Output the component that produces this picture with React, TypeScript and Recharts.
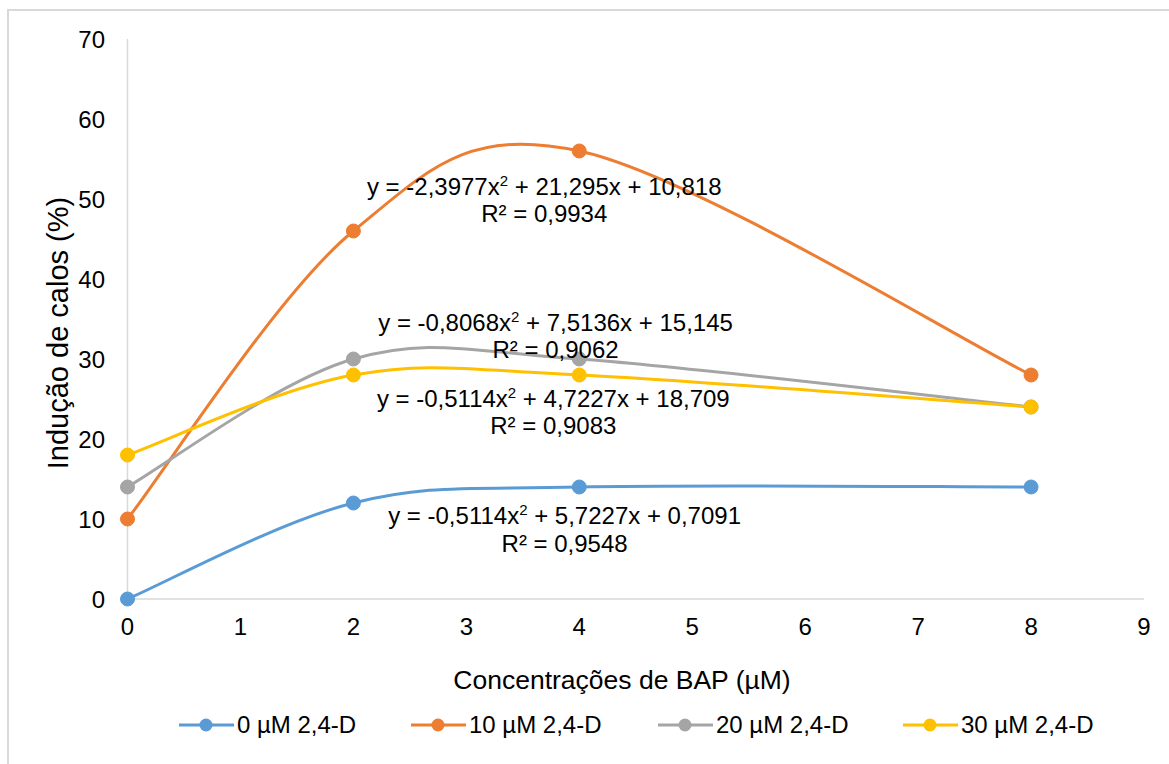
import React from 'react';
import { LineChart, Line, XAxis, YAxis, ReferenceDot } from 'recharts';

// BAP concentrations (µM) on the x axis
const bap = [0, 2, 4, 8];

// callus induction (%) per 2,4-D level
const d0 = [0, 12, 14, 14];
const d10 = [10, 46, 56, 28];
const d20 = [14, 30, 30, 24];
const d30 = [18, 28, 28, 24];

const seriesNames = ['0 µM 2,4-D', '10 µM 2,4-D', '20 µM 2,4-D', '30 µM 2,4-D'];
const seriesKeys = ['d0', 'd10', 'd20', 'd30'];
const seriesColors = ['#5B9BD5', '#ED7D31', '#A5A5A5', '#FFC000'];

const xTicks = [0, 1, 2, 3, 4, 5, 6, 7, 8, 9];
const yTicks = [0, 10, 20, 30, 40, 50, 60, 70];

// trendline labels (anchor in data units)
const eqX = [3.87, 3.69, 3.79, 3.77];
const eqY = [8.7, 49.9, 32.9, 23.4];
const eqA = ['-0,5114', '-2,3977', '-0,8068', '-0,5114'];
const eqB = ['5,7227', '21,295', '7,5136', '4,7227'];
const eqC = ['0,7091', '10,818', '15,145', '18,709'];
const eqR2 = ['0,9548', '0,9934', '0,9062', '0,9083'];

const table = bap.map((x, i) => ({ x, d0: d0[i], d10: d10[i], d20: d20[i], d30: d30[i] }));

const FONT = '"Liberation Sans", Arial, sans-serif';

// Excel style smoothed line (catmull-rom like bezier)
const excelCurve = (context: any) => {
  let pts: number[][] = [];
  return {
    areaStart() {},
    areaEnd() {},
    lineStart() {
      pts = [];
    },
    lineEnd() {
      if (!pts.length) return;
      context.moveTo(pts[0][0], pts[0][1]);
      for (let i = 0; i < pts.length - 1; i++) {
        const p0 = pts[i - 1] || pts[i];
        const p1 = pts[i];
        const p2 = pts[i + 1];
        const p3 = pts[i + 2] || pts[i + 1];
        context.bezierCurveTo(
          p1[0] + (p2[0] - p0[0]) / 6,
          p1[1] + (p2[1] - p0[1]) / 6,
          p2[0] - (p3[0] - p1[0]) / 6,
          p2[1] - (p3[1] - p1[1]) / 6,
          p2[0],
          p2[1]
        );
      }
    },
    point(x: number, y: number) {
      pts.push([+x, +y]);
    },
  };
};

const Equation = ({ cx, cy, i }: any) => (
  <g fontFamily={FONT} fontSize={24} fill="#000">
    <text x={cx} y={cy - 13.5} textAnchor="middle" dy="0.35em">
      {`y = ${eqA[i]}x`}
      <tspan fontSize={15} dy={-9}>2</tspan>
      <tspan dy={9}>{` + ${eqB[i]}x + ${eqC[i]}`}</tspan>
    </text>
    <text x={cx} y={cy + 14} textAnchor="middle" dy="0.35em">
      {`R² = ${eqR2[i]}`}
    </text>
  </g>
);

const legendX = [179, 411, 658, 903];

export default function App() {
  return (
    <div style={{ position: 'fixed', left: 0, top: 0, width: 1169, height: 764, overflow: 'hidden', background: '#fff', fontFamily: FONT }}>
      <div style={{ position: 'absolute', left: 7, top: 9, width: 1300, height: 900, border: '2px solid #D9D9D9' }} />
      <div style={{ position: 'absolute', left: 0, top: 0 }}>
        <LineChart width={1169} height={764} data={table} margin={{ top: 39, right: 25, bottom: 105, left: 67.5 }}>
          <XAxis
            dataKey="x"
            type="number"
            domain={[0, 9]}
            ticks={xTicks}
            height={60}
            tickLine={false}
            tickSize={6}
            tickMargin={13}
            axisLine={{ stroke: '#D9D9D9', strokeWidth: 1.5 }}
            tick={{ fontSize: 24, fill: '#000', fontFamily: FONT }}
          />
          <YAxis
            type="number"
            domain={[0, 70]}
            ticks={yTicks}
            width={60}
            tickLine={false}
            tickSize={6}
            tickMargin={16.5}
            axisLine={{ stroke: '#D9D9D9', strokeWidth: 1.5 }}
            tick={{ fontSize: 24, fill: '#000', fontFamily: FONT }}
          />
          {seriesKeys.map((k, i) => (
            <Line
              key={k}
              dataKey={k}
              name={seriesNames[i]}
              type={excelCurve as any}
              stroke={seriesColors[i]}
              strokeWidth={3}
              dot={{ r: 7, fill: seriesColors[i], stroke: seriesColors[i], strokeWidth: 1 }}
              activeDot={false}
              isAnimationActive={false}
            />
          ))}
          {eqX.map((x, i) => (
            <ReferenceDot
              key={`eq-${i}`}
              x={x}
              y={eqY[i]}
              r={0}
              shape={(p: any) => <Equation cx={p.cx} cy={p.cy} i={i} />}
            />
          ))}
        </LineChart>
      </div>
      <div style={{ position: 'absolute', left: 622, top: 680, transform: 'translate(-50%, -50%)', fontSize: 26.5, lineHeight: 1, whiteSpace: 'nowrap', color: '#000' }}>
        Concentrações de BAP (µM)
      </div>
      <div style={{ position: 'absolute', left: 58, top: 333, transform: 'translate(-50%, -50%) rotate(-90deg)', fontSize: 29, lineHeight: 1, whiteSpace: 'nowrap', color: '#000' }}>
        Indução de calos (%)
      </div>
      {seriesNames.map((name, i) => (
        <div key={name} style={{ position: 'absolute', left: legendX[i], top: 725, transform: 'translateY(-50%)', display: 'flex', alignItems: 'center', fontSize: 24, lineHeight: 1, whiteSpace: 'nowrap', color: '#000' }}>
          <svg width={56} height={16} style={{ display: 'block' }}>
            <line x1={0} y1={8} x2={55} y2={8} stroke={seriesColors[i]} strokeWidth={3} />
            <circle cx={27} cy={8} r={6.5} fill={seriesColors[i]} />
          </svg>
          <span style={{ marginLeft: 2 }}>{name}</span>
        </div>
      ))}
    </div>
  );
}
